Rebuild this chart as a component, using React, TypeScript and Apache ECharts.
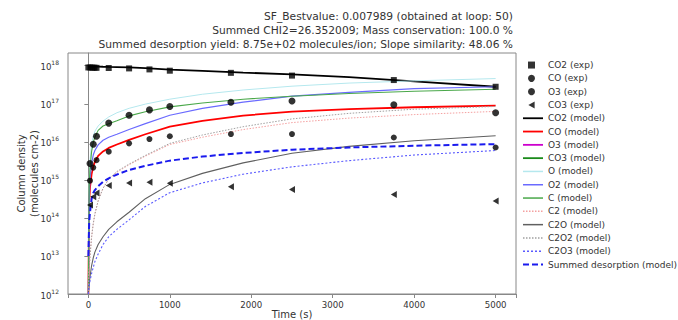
import React, { useEffect, useRef } from "react";
import * as echarts from "echarts";

// ---------- data ----------
const expTime = [20, 60, 100, 250, 500, 750, 1000, 1750, 2500, 3750, 5000];
const co2ExpTime = [0, 25, 50, 75, 100, 250, 500, 750, 1000, 1750, 2500, 3750, 5000];
const co2Exp = [9.0e17, 9.0e17, 8.9e17, 8.9e17, 8.8e17, 8.7e17, 8.5e17, 8.0e17, 7.4e17, 6.5e17, 5.5e17, 4.2e17, 2.8e17];
const coExp = [2.7e15, 8.6e15, 1.4e16, 3.1e16, 5.0e16, 6.9e16, 8.5e16, 1.1e17, 1.18e17, 9.4e16, 5.8e16];
const o3Exp = [9.5e14, 2.1e15, 3.3e15, 5.5e15, 9.1e15, 1.18e16, 1.4e16, 1.6e16, 1.6e16, 1.3e16, 7.1e15];
const co3Exp = [2.2e14, 3.6e14, 4.5e14, 7.1e14, 8.3e14, 8.7e14, 8.2e14, 6.6e14, 5.6e14, 4.1e14, 2.8e14];

const modelTime = [0, 10, 20, 40, 60, 80, 120, 180, 250, 350, 500, 700, 1000, 1400, 1900, 2500, 3200, 4000, 5000];
const co2Model = [9.5e17, 9.5e17, 9.5e17, 9.5e17, 9.5e17, 9.5e17, 9.5e17, 9.4e17, 9.3e17, 9.2e17, 9.0e17, 8.6e17, 7.9e17, 7.3e17, 6.6e17, 5.9e17, 5.0e17, 3.9e17, 2.8e17];
const coModel = [1e12, 2.5e14, 6.3e14, 1.41e15, 2.24e15, 2.95e15, 4.27e15, 5.6e15, 6.9e15, 8.5e15, 1.12e16, 1.58e16, 2.5e16, 3.55e16, 4.9e16, 6.2e16, 7.2e16, 8.1e16, 8.9e16];
const o3Model: number[] = [];
const co3Model: number[] = [];
const oModel = [1e12, 1.0e15, 3.2e15, 8.9e15, 1.4e16, 1.9e16, 2.6e16, 3.5e16, 4.5e16, 5.8e16, 7.6e16, 9.8e16, 1.32e17, 1.78e17, 2.3e17, 2.9e17, 3.5e17, 4.0e17, 4.6e17];
const o2Model = [1e12, 3.2e14, 1.0e15, 2.8e15, 4.5e15, 5.9e15, 8.3e15, 1.1e16, 1.32e16, 1.58e16, 2.1e16, 3.0e16, 5.0e16, 7.6e16, 1.1e17, 1.58e17, 2.0e17, 2.5e17, 2.8e17];
const cModel = [1e12, 6.3e14, 2.0e15, 5.6e15, 9.5e15, 1.32e16, 2.0e16, 2.6e16, 3.0e16, 3.6e16, 4.8e16, 6.2e16, 8.3e16, 1.05e17, 1.32e17, 1.58e17, 1.86e17, 2.14e17, 2.4e17];
const c2Model = [1e12, 4.0e12, 1.0e13, 3.2e13, 7.1e13, 1.26e14, 2.8e14, 6.0e14, 1.05e15, 1.58e15, 2.5e15, 4.2e15, 8.5e15, 1.32e16, 2.1e16, 3.2e16, 4.2e16, 5.2e16, 6.3e16];
const c2oModel = [1e12, 1.8e12, 2.8e12, 5.6e12, 8.9e12, 1.26e13, 2.0e13, 3.2e13, 5.0e13, 7.9e13, 1.41e14, 3.2e14, 7.6e14, 1.48e15, 2.8e15, 5.0e15, 7.6e15, 1.07e16, 1.45e16];
const c2o2Model = [1e12, 4.0e12, 1.0e13, 3.2e13, 7.1e13, 1.26e14, 2.8e14, 6.0e14, 1.05e15, 1.66e15, 2.6e15, 4.4e15, 9.1e15, 1.51e16, 2.5e16, 4.0e16, 5.6e16, 7.2e16, 8.5e16];
const c2o3Model = [1e12, 1.6e12, 2.2e12, 3.5e12, 5.0e12, 7.1e12, 1.12e13, 2.0e13, 3.2e13, 5.0e13, 8.9e13, 2.0e14, 4.6e14, 8.3e14, 1.41e15, 2.2e15, 3.2e15, 4.5e15, 5.9e15];
const summedModel = [1.0e13, 7.9e13, 1.41e14, 3.2e14, 4.5e14, 5.4e14, 6.8e14, 8.9e14, 1.1e15, 1.38e15, 1.82e15, 2.34e15, 3.2e15, 4.1e15, 5.1e15, 6.2e15, 7.1e15, 7.9e15, 8.7e15];

const xTicks = [0, 1000, 2000, 3000, 4000, 5000];
const titleLines = [
  "SF_Bestvalue: 0.007989 (obtained at loop: 50)",
  "Summed CHI2=26.352009; Mass conservation: 100.0 %",
  "Summed desorption yield: 8.75e+02 molecules/ion; Slope similarity: 48.06 %",
];

const FONT = "DejaVu Sans";
const TRI_LEFT = "path://M0,5L9,0L9,10Z";

const zip = (t: number[], v: number[]) => v.map((y, i) => [t[i], y]);

export default function App() {
  const ref = useRef<HTMLDivElement>(null);
  useEffect(() => {
    if (!ref.current) return;
    const chart = echarts.init(ref.current, undefined, { renderer: "svg" });

    const expSeries = [
      { name: "CO2 (exp)", data: zip(co2ExpTime, co2Exp), symbol: "rect", symbolSize: 6 },
      { name: "CO (exp)", data: zip(expTime, coExp), symbol: "circle", symbolSize: 7 },
      { name: "O3 (exp)", data: zip(expTime, o3Exp), symbol: "circle", symbolSize: 6 },
      { name: "CO3 (exp)", data: zip(expTime, co3Exp), symbol: TRI_LEFT, symbolSize: [6, 7] },
    ].map((s) => ({
      type: "scatter",
      name: s.name,
      data: s.data,
      symbol: s.symbol,
      symbolSize: s.symbolSize,
      itemStyle: { color: "#000" },
      z: 5,
    }));

    const models = [
      { name: "CO2 (model)", v: co2Model, color: "#000000", width: 1.8, type: "solid" },
      { name: "CO (model)", v: coModel, color: "#ff0000", width: 1.8, type: "solid" },
      { name: "O3 (model)", v: o3Model, color: "#cc00cc", width: 1.8, type: "solid" },
      { name: "CO3 (model)", v: co3Model, color: "#1a8a1a", width: 1.8, type: "solid" },
      { name: "O (model)", v: oModel, color: "#b5e8ee", width: 1, type: "solid" },
      { name: "O2 (model)", v: o2Model, color: "#6a6aff", width: 1.2, type: "solid" },
      { name: "C (model)", v: cModel, color: "#4aa84a", width: 1.1, type: "solid" },
      { name: "C2 (model)", v: c2Model, color: "#f4a0a0", width: 1, type: [1.5, 1.5] },
      { name: "C2O (model)", v: c2oModel, color: "#606060", width: 1.1, type: "solid" },
      { name: "C2O2 (model)", v: c2o2Model, color: "#a0a0a0", width: 1, type: [1.5, 1.5] },
      { name: "C2O3 (model)", v: c2o3Model, color: "#5a5aff", width: 1.1, type: [2, 2] },
      { name: "Summed desorption (model)", v: summedModel, color: "#1a1aee", width: 2, type: [6, 3] },
    ];

    const modelSeries = models.map((m) => ({
      type: "line",
      name: m.name,
      data: zip(modelTime, m.v),
      symbol: "none",
      showSymbol: false,
      smooth: false,
      color: m.color,
      itemStyle: { color: m.color, opacity: 0 },
      lineStyle: { color: m.color, width: m.width, type: m.type },
      z: 3,
    }));

    const legendText = { fontFamily: FONT, fontSize: 9, color: "#333", lineHeight: 13.3 };

    chart.setOption({
      animation: false,
      textStyle: { fontFamily: FONT },
      graphic: [
        {
          type: "text",
          x: 513,
          y: 10,
          style: {
            text: titleLines.join("\n"),
            align: "right",
            verticalAlign: "top",
            fontFamily: FONT,
            fontSize: 10.7,
            lineHeight: 13.6,
            fill: "#333",
          },
        },
      ],
      grid: {
        left: 68,
        top: 53,
        width: 448,
        height: 241,
        show: true,
        borderColor: "#888",
        borderWidth: 1,
        backgroundColor: "transparent",
        containLabel: false,
        outerBoundsMode: "none",
      },
      legend: [
        {
          orient: "vertical",
          left: 528,
          top: 58.4,
          padding: 0,
          itemGap: 0,
          itemWidth: 7,
          itemHeight: 7,
          data: ["CO2 (exp)", "CO (exp)", "O3 (exp)", "CO3 (exp)"],
          textStyle: { ...legendText, padding: [0, 0, 0, 8] },
        },
        {
          orient: "vertical",
          left: 522,
          top: 58.4 + 4 * 13.3,
          padding: 0,
          itemGap: 0,
          itemWidth: 20,
          itemHeight: 10,
          data: models.map((m) => ({
            name: m.name,
            itemStyle: { opacity: 0 },
            lineStyle: { width: Math.max(m.width, 1.5), type: m.type, color: m.color },
          })),
          textStyle: legendText,
        },
      ],
      xAxis: {
        type: "value",
        min: -250,
        max: 5250,
        name: "Time (s)",
        nameLocation: "middle",
        nameGap: 15,
        nameMoveOverlap: false,
        nameTextStyle: { fontFamily: FONT, fontSize: 10, color: "#333" },
        splitLine: { show: false },
        axisLine: { onZero: false, lineStyle: { color: "#888" } },
        axisTick: { length: 4, lineStyle: { color: "#888" } },
        axisLabel: {
          fontFamily: FONT,
          fontSize: 8.6,
          color: "#333",
          margin: 6,
          formatter: (v: number) => (xTicks.includes(v) ? String(v) : ""),
        },
      },
      yAxis: {
        type: "log",
        logBase: 10,
        min: 1e12,
        max: 2.16e18,
        name: "Column density\n(molecules cm-2)",
        nameLocation: "middle",
        nameGap: 27,
        nameMoveOverlap: false,
        nameTextStyle: { fontFamily: FONT, fontSize: 10, color: "#333", lineHeight: 13 },
        splitLine: { show: false },
        axisLine: { show: true, lineStyle: { color: "#888" } },
        axisTick: { length: 4, lineStyle: { color: "#888" } },
        axisLabel: {
          fontFamily: FONT,
          color: "#333",
          margin: 9,
          showMaxLabel: false,
          formatter: (v: number) => {
            const l = Math.log10(v);
            const e = Math.round(l);
            if (Math.abs(l - e) > 1e-6) return "";
            return `{b|10}{e|${e}}`;
          },
          rich: {
            b: { fontFamily: FONT, fontSize: 8.6, color: "#333", verticalAlign: "bottom", lineHeight: 12 },
            e: { fontFamily: FONT, fontSize: 6, color: "#333", verticalAlign: "top", lineHeight: 7 },
          },
        },
      },
      series: [...modelSeries, ...expSeries],
    });

    return () => chart.dispose();
  }, []);

  return (
    <div
      ref={ref}
      style={{ position: "absolute", left: 0, top: 0, width: 678, height: 320, background: "#fff" }}
    />
  );
}
